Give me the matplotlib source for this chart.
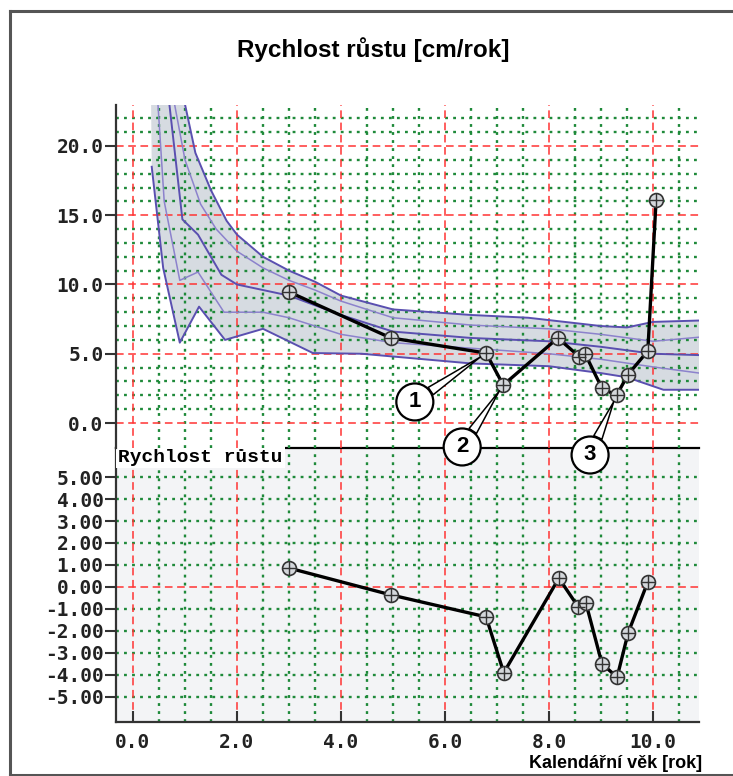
import numpy as np
import matplotlib
matplotlib.use('Agg')
import matplotlib.pyplot as plt
from matplotlib.lines import Line2D
from matplotlib.ticker import FuncFormatter

# patient measurements: age [years], growth velocity [cm/year], velocity SDS
age = [3.0, 4.96, 6.79, 7.12, 8.17, 8.58, 8.7, 9.02, 9.3, 9.52, 9.9, 10.06]
velocity = [9.46, 6.14, 5.05, 2.74, 6.14, 4.8, 4.95, 2.5, 2.0, 3.5, 5.2, 16.1]
sds_age = [3.0, 4.96, 6.79, 7.13, 8.19, 8.56, 8.71, 9.02, 9.31, 9.52, 9.9]
sds = [0.86, -0.36, -1.36, -3.9, 0.4, -0.9, -0.73, -3.5, -4.1, -2.1, 0.23]

# reference percentile curves (lowest to highest)
p1_age = [0.36, 0.58, 0.9, 1.27, 1.77, 2.5, 3.46, 4.4, 5.0, 6.5, 8.0, 9.0, 9.5, 10.2, 10.9]
p1_val = [18.5, 11.2, 5.8, 8.4, 6.0, 6.8, 5.05, 5.0, 4.8, 4.3, 4.1, 3.6, 3.3, 2.4, 2.4]
p2_age = [0.48, 0.6, 0.9, 1.25, 1.75, 2.5, 3.0, 4.0, 5.0, 6.5, 8.0, 9.0, 10.0, 10.9]
p2_val = [23.0, 16.0, 10.3, 10.9, 8.0, 8.0, 7.6, 6.4, 5.8, 5.4, 5.0, 4.6, 4.05, 3.6]
p3_age = [0.7, 0.95, 1.25, 1.7, 2.0, 2.5, 3.0, 4.0, 5.0, 6.5, 8.0, 9.0, 10.0, 10.9]
p3_val = [23.0, 14.7, 13.6, 10.7, 10.0, 9.6, 9.2, 7.8, 6.6, 6.14, 5.9, 5.5, 5.0, 4.9]
p4_age = [0.8, 1.0, 1.3, 1.6, 2.0, 2.5, 3.0, 3.5, 4.0, 5.0, 6.5, 8.0, 9.0, 10.0, 10.9]
p4_val = [23.0, 19.0, 15.8, 14.0, 12.4, 11.2, 10.3, 9.6, 8.8, 7.6, 7.07, 6.8, 6.4, 5.9, 6.2]
p5_age = [1.0, 1.2, 1.5, 1.8, 2.0, 2.5, 3.0, 3.5, 4.0, 5.0, 6.5, 7.6, 9.0, 9.5, 10.0, 10.9]
p5_val = [23.0, 19.5, 16.8, 14.6, 13.6, 12.0, 11.0, 10.2, 9.2, 8.2, 7.8, 7.6, 7.0, 6.9, 7.3, 7.4]

callout_labels = ['1', '2', '3']
callout_targets = [2, 3, 8]          # index into age/velocity
callout_pos = [(5.42, 1.52), (6.33, -1.73), (8.79, -2.31)]

RED = '#ff3333'
GREEN = '#1f8a3a'
PURPLE_DARK = '#5a4fb0'
PURPLE_LIGHT = '#8c82cc'
MONO = 'DejaVu Sans Mono'


def dash_grid(ax, xs_red, xs_green, ys_red, ys_green):
    for x in xs_green:
        ax.axvline(x, color=GREEN, lw=1.7, ls=(0, (1.2, 2.2)), zorder=1)
    for y in ys_green:
        ax.axhline(y, color=GREEN, lw=1.7, ls=(0, (1.2, 2.2)), zorder=1)
    for x in xs_red:
        ax.axvline(x, color=RED, lw=1.1, ls=(0, (5, 3)), zorder=1.1)
    for y in ys_red:
        ax.axhline(y, color=RED, lw=1.1, ls=(0, (5, 3)), zorder=1.1)


def draw_points(ax, xs, ys):
    ax.plot(xs, ys, color='black', lw=2.4, zorder=4)
    ax.plot(xs, ys, ls='none', marker='o', ms=10, mfc='#d4d7db', mec='#333333', mew=1.2, zorder=5)
    ax.plot(xs, ys, ls='none', marker='+', ms=10, mec='#333333', mew=1.0, zorder=6)


def style_ticks(ax, size=14):
    for t in ax.get_yticklabels() + ax.get_xticklabels():
        t.set_fontfamily(MONO)
        t.set_fontweight('bold')
        t.set_fontsize(size)
        t.set_color('#222222')


fig = plt.figure(figsize=(7.33, 7.76), dpi=100)
W, H = 733, 776

ax_top = fig.add_axes([116 / W, (H - 448) / H, 583 / W, 343 / H])
ax_bot = fig.add_axes([116 / W, (H - 722) / H, 583 / W, 274 / H])
ax_top.set_zorder(2)
ax_bot.set_zorder(1)

xlim = ((116 - 133) / 52, (699 - 133) / 52)
major_x = [0, 2, 4, 6, 8, 10]
minor_x = [v / 2 for v in range(1, 22) if v % 4 != 0]

# ---------- upper panel ----------
ax = ax_top
ax.set_xlim(*xlim)
ax.set_ylim(-1.805, 22.96)
ax.set_facecolor('none')
dash_grid(ax, major_x, minor_x, [0, 5, 10, 15, 20],
          [v for v in range(1, 23) if v % 5 != 0])

band_x = [0.33] + p5_age + p1_age[::-1]
band_y = [30.0] + p5_val + p1_val[::-1]
ax.fill(band_x, band_y, color='#d6dbe1', zorder=0.5, lw=0)

for xs, ys, col, lw in [(p1_age, p1_val, PURPLE_DARK, 1.4),
                        (p2_age, p2_val, PURPLE_LIGHT, 1.1),
                        (p3_age, p3_val, PURPLE_DARK, 1.4),
                        (p4_age, p4_val, PURPLE_LIGHT, 1.1),
                        (p5_age, p5_val, PURPLE_DARK, 1.4)]:
    ax.plot(xs, ys, color=col, lw=lw, zorder=2)

draw_points(ax, age, velocity)

for lab, idx, pos in zip(callout_labels, callout_targets, callout_pos):
    ax.annotate(lab, xy=(age[idx], velocity[idx]), xytext=pos, textcoords='data',
                ha='center', va='center', fontsize=16, fontweight='bold',
                family='Liberation Sans', annotation_clip=False, zorder=8,
                bbox=dict(boxstyle='circle,pad=0.36', fc='white', ec='black', lw=1.6),
                arrowprops=dict(arrowstyle='wedge,tail_width=0.4,shrink_factor=0.5',
                                fc='white', ec='black', lw=1.1, shrinkA=0, shrinkB=5))

for s in ['top', 'right', 'bottom']:
    ax.spines[s].set_visible(False)
ax.spines['left'].set_linewidth(1.6)
ax.spines['left'].set_color('#333333')
ax.set_xticks([])
ax.set_yticks([0, 5, 10, 15, 20])
ax.yaxis.set_major_formatter(FuncFormatter(lambda v, p: f'{v:.1f}'))
ax.tick_params(axis='y', direction='out', length=8, width=1.5, color='#333333', pad=1)
style_ticks(ax)

# ---------- lower panel ----------
ax = ax_bot
ax.set_xlim(*xlim)
ax.set_ylim(-6.14, 6.32)
ax.set_facecolor('#f3f4f6')
dash_grid(ax, major_x, minor_x, [0], [v for v in range(-5, 6) if v != 0])

draw_points(ax, sds_age, sds)

ax.text(0.004, 0.997, 'Rychlost růstu', transform=ax.transAxes, ha='left', va='top',
        family='Liberation Mono', fontweight='bold', fontsize=14, zorder=7,
        bbox=dict(boxstyle='square,pad=0.12', fc='white', ec='none'))

ax.spines['right'].set_visible(False)
for s in ['left', 'top', 'bottom']:
    ax.spines[s].set_linewidth(1.6)
    ax.spines[s].set_color('#333333')
ax.spines['top'].set_color('black')
ax.set_yticks(range(-5, 6))
ax.yaxis.set_major_formatter(FuncFormatter(lambda v, p: f'{v:.2f}'.replace('\u2212', '-')))
ax.set_xticks(major_x)
ax.xaxis.set_major_formatter(FuncFormatter(lambda v, p: f'{v:.1f}'))
ax.tick_params(axis='y', direction='out', length=8, width=1.5, color='#333333', pad=1)
ax.tick_params(axis='x', direction='in', length=8, width=1.5, color='#333333', pad=8)
style_ticks(ax)

# ---------- titles and outer frame ----------
fig.text(373 / W, 1 - 50 / H, 'Rychlost růstu [cm/rok]', ha='center', va='center',
         family='Liberation Sans', fontweight='bold', fontsize=17.5)
fig.text(702 / W, 1 - 763 / H, 'Kalendářní věk [rok]', ha='right', va='center',
         family='Liberation Sans', fontweight='bold', fontsize=13)

frame_kw = dict(color='#555555', lw=2.2, transform=fig.transFigure)
fig.add_artist(Line2D([10 / W, 10 / W], [1 - 11 / H, 1 - 775 / H], **frame_kw))
fig.add_artist(Line2D([10 / W, 1.0], [1 - 11 / H, 1 - 11 / H], **frame_kw))
fig.add_artist(Line2D([10 / W, 1.0], [1 - 775 / H, 1 - 775 / H], **frame_kw))

fig.savefig('out.png', dpi=100)
